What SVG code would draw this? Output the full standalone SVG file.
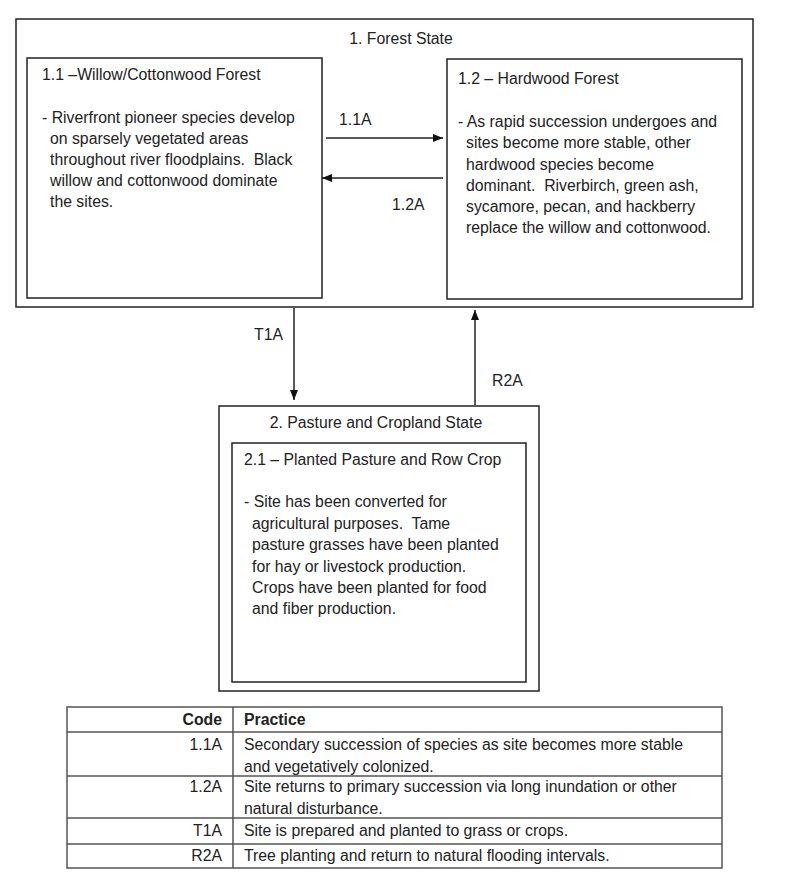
<svg xmlns="http://www.w3.org/2000/svg" width="800" height="880" viewBox="0 0 800 880">
<defs>
<marker id="arr" viewBox="0 0 10 10" refX="10" refY="5" markerWidth="10" markerHeight="10" markerUnits="userSpaceOnUse" orient="auto">
<path d="M0,1 L10,5 L0,9 Z" fill="#111"/>
</marker>
</defs>
<style>
text{font-family:"Liberation Sans","Arial",sans-serif;font-size:15.8px;fill:#222}
.box{fill:#fff;stroke:#222;stroke-width:1.5}
.edge{stroke:#222;stroke-width:1.5;fill:none;marker-end:url(#arr)}
.tl{stroke:#555;stroke-width:1.5;fill:none}
.b{font-weight:bold}
.r{text-anchor:end}
.m{text-anchor:middle}
</style>
<rect width="800" height="880" fill="#fff"/>
<g id="state1">
<rect class="box" x="16" y="19" width="737" height="288"/>
<text class="m" x="401" y="44">1. Forest State</text>
</g>
<g id="n11">
<rect class="box" x="27" y="58" width="295" height="240"/>
<text x="42" y="80">1.1 –Willow/Cottonwood Forest</text>
<text x="42" y="123">- Riverfront pioneer species develop</text>
<text x="50" y="144">on sparsely vegetated areas</text>
<text x="50" y="165" xml:space="preserve">throughout river floodplains.  Black</text>
<text x="50" y="186">willow and cottonwood dominate</text>
<text x="50" y="207">the sites.</text>
</g>
<g id="n12">
<rect class="box" x="447" y="59" width="295" height="240"/>
<text x="458" y="84">1.2 – Hardwood Forest</text>
<text x="458" y="127">- As rapid succession undergoes and</text>
<text x="466" y="148">sites become more stable, other</text>
<text x="466" y="170">hardwood species become</text>
<text x="466" y="191" xml:space="preserve">dominant.  Riverbirch, green ash,</text>
<text x="466" y="212">sycamore, pecan, and hackberry</text>
<text x="466" y="233">replace the willow and cottonwood.</text>
</g>
<g id="state2">
<rect class="box" x="219" y="406" width="320" height="285"/>
<text class="m" x="376" y="428">2. Pasture and Cropland State</text>
</g>
<g id="n21">
<rect class="box" x="232" y="443" width="294" height="239"/>
<text x="244" y="465">2.1 – Planted Pasture and Row Crop</text>
<text x="244" y="507">- Site has been converted for</text>
<text x="252" y="529" xml:space="preserve">agricultural purposes.  Tame</text>
<text x="252" y="550">pasture grasses have been planted</text>
<text x="252" y="572">for hay or livestock production.</text>
<text x="252" y="593">Crops have been planted for food</text>
<text x="252" y="614">and fiber production.</text>
</g>
<g id="connectors">
<line class="edge" x1="326" y1="138" x2="443" y2="138"/>
<text x="339" y="125">1.1A</text>
<line class="edge" x1="443" y1="178" x2="322" y2="178"/>
<text x="392" y="210">1.2A</text>
<line class="edge" x1="294" y1="308" x2="294" y2="400"/>
<text x="254" y="340">T1A</text>
<line class="edge" x1="475" y1="405" x2="475" y2="310"/>
<text x="492" y="386">R2A</text>
</g>
<g id="table">
<rect class="tl" x="67" y="707" width="655" height="161"/>
<line class="tl" x1="233" y1="707" x2="233" y2="868"/>
<line class="tl" x1="67" y1="732" x2="722" y2="732"/>
<line class="tl" x1="67" y1="776" x2="722" y2="776"/>
<line class="tl" x1="67" y1="818" x2="722" y2="818"/>
<line class="tl" x1="67" y1="844" x2="722" y2="844"/>
<text class="b r" x="222" y="725">Code</text>
<text class="b" x="244" y="725">Practice</text>
<text class="r" x="222" y="750">1.1A</text>
<text x="244" y="750">Secondary succession of species as site becomes more stable</text>
<text x="244" y="772">and vegetatively colonized.</text>
<text class="r" x="222" y="792">1.2A</text>
<text x="244" y="792">Site returns to primary succession via long inundation or other</text>
<text x="244" y="814">natural disturbance.</text>
<text class="r" x="222" y="836">T1A</text>
<text x="244" y="836">Site is prepared and planted to grass or crops.</text>
<text class="r" x="222" y="861">R2A</text>
<text x="244" y="861">Tree planting and return to natural flooding intervals.</text>
</g>
</svg>
